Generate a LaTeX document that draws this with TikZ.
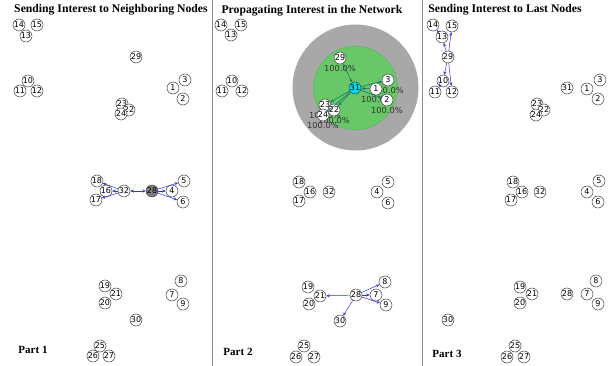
\documentclass[tikz,border=0pt]{standalone}
\usepackage{fontspec}
\setmainfont{Liberation Serif}
\newfontfamily\nodefont{DejaVu Sans}
\usetikzlibrary{arrows.meta}
\definecolor{arrblue}{RGB}{50,50,230}
\definecolor{arrteal}{RGB}{20,120,110}
\definecolor{ringgray}{RGB}{168,168,168}
\definecolor{zonegreen}{RGB}{104,200,104}
\definecolor{nodecyan}{RGB}{0,220,240}
\tikzset{
  nd/.style={circle,draw=black!75,line width=0.5pt,fill=white,inner sep=0pt,minimum size=12pt,font=\nodefont\fontsize{8}{8}\selectfont},
  title/.style={font=\bfseries\fontsize{11.7}{13}\selectfont},
  partlbl/.style={font=\bfseries\fontsize{11}{12}\selectfont},
  pct/.style={font=\nodefont\fontsize{8.3}{9}\selectfont,text=black!80,inner sep=0pt},
  barr/.style={draw=arrblue,line width=0.5pt,-{Stealth[length=3.5pt,width=3pt]}},
  tarr/.style={draw=arrteal,line width=0.6pt,-{Stealth[length=3.5pt,width=3pt]}},
  divider/.style={draw=black!45,line width=1pt}
}
\begin{document}
\begin{tikzpicture}[x=1pt,y=-1pt]
\useasboundingbox (0,0) rectangle (610,366);
% dividers
\coordinate (d1t) at (212,0); \coordinate (d1b) at (212,366);
\coordinate (d2t) at (422,0); \coordinate (d2b) at (422,366);
\draw[divider] (d1t) -- (d1b);
\draw[divider] (d2t) -- (d2b);
% titles
\node[title] (t1) at (111,10) {Sending Interest to Neighboring Nodes};
\node[title] (t2) at (312,11) {Propagating Interest in the Network};
\node[title] (t3) at (505,10) {Sending Interest to Last Nodes};
\node[partlbl] (pt1) at (33,350) {Part 1};
\node[partlbl] (pt2) at (238,352) {Part 2};
\node[partlbl] (pt3) at (447,354) {Part 3};
% ---------------- Panel 1
\foreach \n/\x/\y in {14/19/25,15/37/25,13/26/36,29/136/57,10/28/81,11/20/91,12/37/91,
  1/173/88,3/185/80,2/183/99,23/122/104,22/129/110,24/121/114,
  18/97/181,16/106/191,32/124/191,17/96/200,4/172/191,5/184/181,6/183/202,
  19/105/286,21/116/294,20/105/303,8/181/281,7/172/295,9/183/304,30/136/320,
  25/100/346,26/93/356,27/109/356}
  {\node[nd] (a\n) at (\x,\y) {\n};}
\node[nd,fill=black!50] (a28) at (152,191) {28};
\draw[barr] (a32) -- (a18);
\draw[barr] (a32) -- (a16);
\draw[barr] (a32) -- (a17);
\draw[barr,{Stealth[length=3.5pt,width=3pt]}-{Stealth[length=3.5pt,width=3pt]}] (a32) -- (a28);
\draw[barr] (a28) -- (a4);
\draw[barr] (a28) -- (a5);
\draw[barr] (a28) -- (a6);
% ---------------- Panel 2
\node[circle,fill=ringgray,minimum size=126pt,inner sep=0pt] (ring) at (355.5,87.5) {};
\node[circle,fill=zonegreen,draw=green!45!black!60,line width=0.4pt,minimum size=84pt,inner sep=0pt] (zone) at (355.5,88) {};
\node[pct] (l29) at (340,68) {100.0\%};
\node[pct] (l3) at (388,90) {100.0\%};
\node[pct] (l1) at (377,99) {100.0\%};
\node[pct] (l2) at (387,110) {100.0\%};
\node[pct] (l23) at (325,115) {100.0\%};
\node[pct] (l22) at (334,120) {100.0\%};
\node[pct] (l24) at (323,125) {100.0\%};
\foreach \n/\x/\y in {14/221/25,15/241/25,13/231/35,10/232/81,11/222/91,12/242/91,
  29/340/58,1/376/89,3/388/80,2/387/100,23/325/105,22/334/110,24/323/115,
  18/299/182,16/310/192,32/329/192,17/299/201,5/388/182,4/377/192,6/388/203,
  19/308/287,21/320/296,20/309/304,28/356/295,8/385/282,7/376/295,9/386/305,
  30/340/321,25/304/346,26/296/357,27/314/357}
  {\node[nd] (b\n) at (\x,\y) {\n};}
\node[nd,fill=nodecyan] (b31) at (355,88) {31};
\draw[tarr] (b29) -- (b31);
\draw[tarr] (b31) -- (b3);
\draw[tarr] (b1) -- (b31);
\draw[tarr] (b31) -- (b2);
\draw[tarr] (b31) -- (b23);
\draw[tarr] (b31) -- (b22);
\draw[tarr] (b31) -- (b24);
\draw[barr] (b28) -- (b21);
\draw[barr] (b28) -- (b8);
\draw[barr] (b28) -- (b7);
\draw[barr] (b28) -- (b9);
\draw[barr] (b28) -- (b30);
% ---------------- Panel 3
\foreach \n/\x/\y in {14/433/25,15/452/26,13/442/37,29/448/57,10/443/81,11/435/92,12/452/92,
  31/567/88,1/587/89,3/600/80,2/598/99,23/537/104,22/544/110,24/536/115,
  18/513/182,16/522/192,32/540/192,17/511/200,5/599/181,4/587/192,6/598/202,
  8/596/281,19/520/287,21/532/294,20/520/303,28/567/294,7/587/294,9/598/304,
  30/448/320,25/515/346,26/507/357,27/524/357}
  {\node[nd] (c\n) at (\x,\y) {\n};}
\draw[barr] (c29) -- (c13);
\draw[barr] (c29) -- (c15);
\draw[barr] (c29) -- (c10);
\draw[barr] (c29) -- (c12);
\draw[barr] (c10) -- (c11);
\draw[barr] (c13) -- (c14);
\end{tikzpicture}
\end{document}
